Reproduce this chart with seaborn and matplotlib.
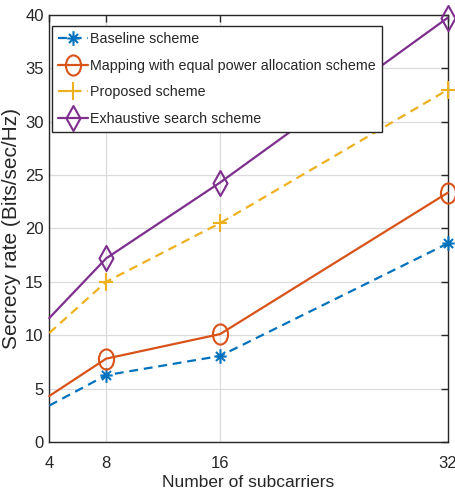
import numpy as np
import pandas as pd
import seaborn as sns
import matplotlib
matplotlib.use("Agg")
import matplotlib.pyplot as plt
from matplotlib.path import Path
from matplotlib.transforms import Affine2D

# Data
subcarriers = [4, 8, 16, 32]
baseline = [3.4, 6.25, 8.05, 18.6]
mapping_equal = [4.3, 7.8, 10.1, 23.35]
proposed = [10.2, 15.0, 20.5, 33.0]
exhaustive = [11.6, 17.2, 24.3, 39.75]

labels = [
    "Baseline scheme",
    "Mapping with equal power allocation scheme",
    "Proposed scheme",
    "Exhaustive search scheme",
]
series = [baseline, mapping_equal, proposed, exhaustive]
colors = ["#0072BD", "#D95319", "#EDB120", "#7E2F8E"]

# Open marker shapes (slightly taller than wide)
ellipse = Path.unit_circle().transformed(Affine2D().scale(0.75, 1.0))
diamond = Path([(0, 1), (0.56, 0), (0, -1), (-0.56, 0), (0, 1)],
               [Path.MOVETO, Path.LINETO, Path.LINETO, Path.LINETO, Path.CLOSEPOLY])
plus = Path([(0, 1), (0, -1), (-0.78, 0), (0.78, 0)],
            [Path.MOVETO, Path.LINETO, Path.MOVETO, Path.LINETO])
d = 0.62
asterisk = Path([(0, 1), (0, -1), (-0.85, 0), (0.85, 0),
                 (-d, d), (d, -d), (-d, -d), (d, d)],
                [Path.MOVETO, Path.LINETO, Path.MOVETO, Path.LINETO,
                 Path.MOVETO, Path.LINETO, Path.MOVETO, Path.LINETO])

markers = [asterisk, ellipse, plus, diamond]
msizes = [10.5, 14.5, 13.5, 18.0]
styles = [(0, (4, 2.6)), "-", (0, (4, 2.6)), "-"]

sns.set_style("white")
plt.rcParams["font.family"] = ["Liberation Sans", "DejaVu Sans"]

fig = plt.figure(figsize=(4.56, 5.01), dpi=100)
ax = fig.add_axes([0.108, 0.118, 0.874, 0.852])

rows = []
for lab, vals in zip(labels, series):
    for x, y in zip(subcarriers, vals):
        rows.append({"Number of subcarriers": x, "rate": y, "scheme": lab})
df = pd.DataFrame(rows)

for lab, col, mk, ms, ls in zip(labels, colors, markers, msizes, styles):
    sub = df[df["scheme"] == lab]
    sns.lineplot(data=sub, x="Number of subcarriers", y="rate", ax=ax,
                 color=col, label=lab, marker=mk, markersize=ms,
                 markerfacecolor="none", markeredgecolor=col,
                 markeredgewidth=1.5, linewidth=1.6, linestyle=ls,
                 markevery=[1, 2, 3], clip_on=False, zorder=3)

ax.set_xlim(4, 32)
ax.set_ylim(0, 40)
ax.set_xticks(subcarriers)
ax.set_yticks(np.arange(0, 41, 5))
ax.grid(True, color="#dcdcdc", linewidth=0.9)
ax.set_axisbelow(True)

for sp in ax.spines.values():
    sp.set_visible(True)
    sp.set_color("#262626")
    sp.set_linewidth(1.0)

ax.tick_params(direction="in", length=5, width=1.0, top=True, right=True,
               labelsize=12, colors="#262626")
ax.tick_params(axis="x", pad=10)
ax.tick_params(axis="y", pad=4)

ax.set_xlabel("Number of subcarriers", fontsize=12.5, color="#262626", labelpad=3)
ax.set_ylabel("Secrecy rate (Bits/sec/Hz)", fontsize=15, color="#262626", labelpad=3)

leg = ax.legend(loc="upper left", bbox_to_anchor=(0.006, 0.975), fontsize=10.3,
                frameon=True, fancybox=False, edgecolor="#262626",
                framealpha=1.0, numpoints=1, handlelength=2.1,
                handletextpad=0.1, labelspacing=0.88, borderpad=0.45,
                borderaxespad=0.0)
leg.get_frame().set_linewidth(1.0)
leg.set_zorder(5)

fig.savefig("out.png", dpi=100)
